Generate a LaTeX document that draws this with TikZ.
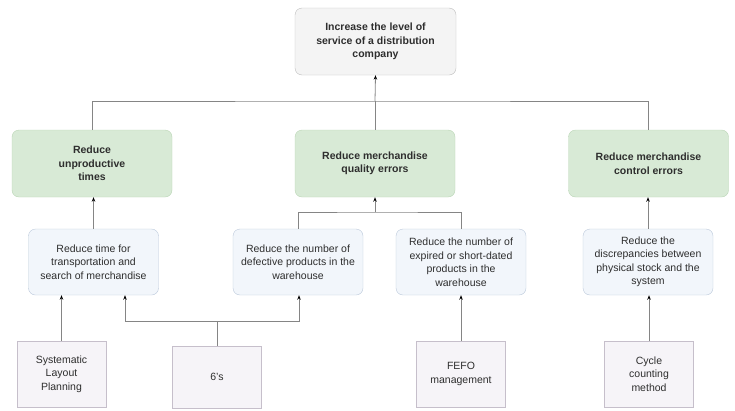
\documentclass[tikz,border=0pt]{standalone}
\usepackage{fontspec}
\setmainfont{Liberation Sans}
\usetikzlibrary{positioning,arrows.meta}

\definecolor{goalfill}{HTML}{F4F4F4}
\definecolor{goalline}{HTML}{BDBDBD}
\definecolor{objfill}{HTML}{D8EAD6}
\definecolor{objline}{HTML}{B9D5B5}
\definecolor{subfill}{HTML}{F2F6FB}
\definecolor{subline}{HTML}{BAC8DA}
\definecolor{toolfill}{HTML}{F6F4F8}
\definecolor{toolline}{HTML}{C6BFCB}
\definecolor{linkgray}{HTML}{858585}
\definecolor{txt}{HTML}{2E2E2E}

\tikzset{
  boxtext/.style={align=center,text=txt,font=\fontsize{10.5}{13.5}\selectfont,inner sep=2pt},
  goal/.style={boxtext,draw=goalline,fill=goalfill,rounded corners=7pt,minimum width=161pt,minimum height=67pt,font=\bfseries\fontsize{10.5}{13.5}\selectfont},
  objbox/.style={boxtext,draw=objline,fill=objfill,rounded corners=7pt,minimum width=160pt,minimum height=67pt,font=\bfseries\fontsize{10.5}{13.5}\selectfont},
  subbox/.style={boxtext,draw=subline,fill=subfill,rounded corners=7pt,minimum width=130pt,minimum height=66pt},
  toolbox/.style={boxtext,draw=toolline,fill=toolfill,minimum width=89pt,minimum height=66pt},
  link/.style={draw=linkgray,line width=0.8pt},
  up/.style={link,-{Stealth[length=4.5pt,width=3.5pt,color=black]}}
}

\begin{document}
\begin{tikzpicture}[x=1pt,y=-1pt]
\useasboundingbox (0,0) rectangle (735,410);

% goal
\node[goal] (top) at (375.5,41.5) {Increase the level of\\service of a distribution\\company};

% objectives
\node[objbox] (obj1) at (92,163.5) {Reduce\\unproductive\\times};
\node[objbox] (obj2) at (375,163.5) {Reduce merchandise\\quality errors};
\node[objbox] (obj3) at (648.5,163.5) {Reduce merchandise\\control errors};

% sub objectives
\node[subbox] (sub1) at (93.5,262) {Reduce time for\\transportation and\\search of merchandise};
\node[subbox] (sub2) at (298,262) {Reduce the number of\\defective products in the\\warehouse};
\node[subbox] (sub3) at (461,262) {Reduce the number of\\expired or short-dated\\products in the\\warehouse};
\node[subbox] (sub4) at (648,262) {Reduce the\\discrepancies between\\physical stock and the\\system};

% tools
\node[toolbox] (slp) at (61.5,374) {Systematic\\Layout\\Planning};
\node[toolbox,minimum height=62pt] (six) at (217,377) {6's};
\node[toolbox] (fefo) at (461,374) {FEFO\\management};
\node[toolbox] (cycle) at (649,374) {Cycle\\counting\\method};

% connectors
\coordinate (bus) at (375,101);
\coordinate (join) at (375,212);
\coordinate (f1) at (125,321);
\coordinate (f2) at (299,321);

\draw[link] (obj1.north) |- (bus) -| (obj3.north);
\draw[link] (obj2.north) -- (bus);
\draw[up] (bus) -- (top.south);

\draw[up] (sub1.north) -- (sub1.north |- obj1.south);
\draw[link] (sub2.north) |- (join) -| (sub3.north);
\draw[up] (join) -- (obj2.south);
\draw[up] (sub4.north) -- (sub4.north |- obj3.south);

\draw[up] (slp.north) -- (slp.north |- sub1.south);
\draw[up] (six.north) |- (f1) -- (f1 |- sub1.south);
\draw[up] (six.north) |- (f2) -- (f2 |- sub2.south);
\draw[up] (fefo.north) -- (sub3.south);
\draw[up] (cycle.north) -- (cycle.north |- sub4.south);

\end{tikzpicture}
\end{document}
